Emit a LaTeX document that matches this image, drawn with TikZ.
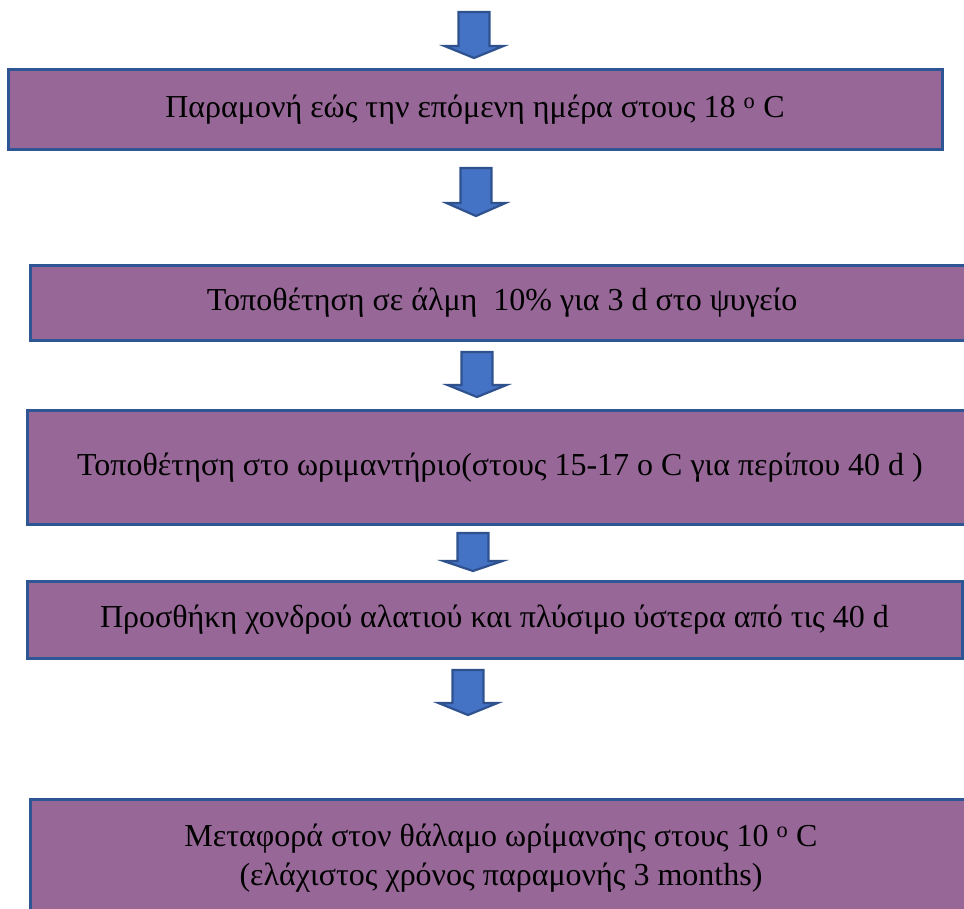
\documentclass[tikz,border=0pt]{standalone}
\usepackage{fontspec}
\setmainfont{Liberation Serif}
\definecolor{boxfill}{HTML}{976798}
\definecolor{boxline}{HTML}{2E5594}
\definecolor{arrowfill}{HTML}{4472C4}
\definecolor{arrowline}{HTML}{2F528F}
\tikzset{
  stage/.style={draw=boxline, line width=3pt, fill=boxfill, inner sep=0pt,
    align=center, font=\fontsize{32}{38.5}\selectfont},
  flowarrow/.style={draw=arrowline, line width=2.2pt, fill=arrowfill, line join=miter}
}
\begin{document}
\begin{tikzpicture}[x=1pt, y=-1pt]
      \clip (0,0) rectangle (964,908);
      \fill[white] (0,0) rectangle (964,908);
      % étapes
      \node[stage, minimum width=934pt, minimum height=80pt] (s1) at (475,109.5)
            {Παραμονή εώς την επόμενη ημέρα στους 18 \textsuperscript{o} C};
      \node[stage, minimum width=944pt, minimum height=75pt] (s2) at (502,302.5)
            {Τοποθέτηση σε άλμη~ 10\% για 3 d στο ψυγείο};
      \node[stage, minimum width=946pt, minimum height=114pt] (s3) at (500,467.5)
            {Τοποθέτηση στο ωριμαντήριο(στους 15-17 ο C για περίπου 40 d )};
      \node[stage, minimum width=935pt, minimum height=77pt] (s4) at (494.5,620)
            {Προσθήκη χονδρού αλατιού και πλύσιμο ύστερα από τις 40 d};
      \node[stage, minimum width=942pt, minimum height=118pt] (s5) at (501,858)
            {Μεταφορά στον θάλαμο ωρίμανσης στους 10 \textsuperscript{o} C\\
             (ελάχιστος χρόνος παραμονής 3 months)};
      % flèches
      \foreach \cx/\ty/\len/\hd in {474/12/46/12, 476/168/48/13, 477/352/45/12,
                                    473/533/38/10, 468/670/45/12} {
        \draw[flowarrow] (\cx-15.5,\ty) -- (\cx+15.5,\ty) -- (\cx+15.5,\ty+\len-\hd)
              -- (\cx+29.5,\ty+\len-\hd) -- (\cx,\ty+\len) -- (\cx-29.5,\ty+\len-\hd)
              -- (\cx-15.5,\ty+\len-\hd) -- cycle;
      }
\end{tikzpicture}
\end{document}
